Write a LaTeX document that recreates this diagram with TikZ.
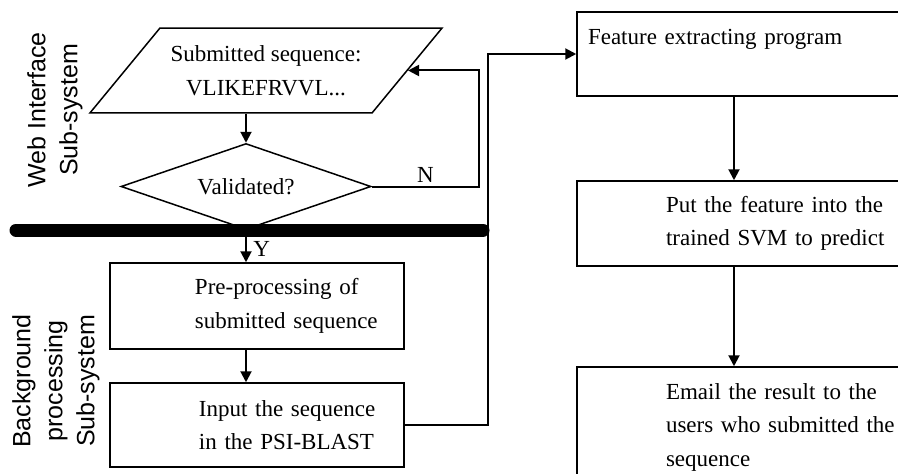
\documentclass[tikz,border=0pt]{standalone}
\usepackage{fontspec}
\setmainfont{Liberation Serif}
\setsansfont{Liberation Sans}
\usetikzlibrary{shapes.geometric,arrows.meta}

\tikzset{
  arr/.style={line width=2pt,-{Triangle[length=11pt,width=11pt]}},
  flowbox/.style 2 args={draw, line width=1.5pt, inner xsep=0pt, inner ysep=0pt,
    text width=#1, align=left, execute at begin node={\leftskip=#2\relax}},
  sidelabel/.style={rotate=90, align=center, font=\sffamily\fontsize{25}{32}\selectfont},
}

\begin{document}
\begin{tikzpicture}[x=1pt,y=-1pt,font=\fontsize{23}{33.5}\selectfont]
\clip (0,0) rectangle (898,474);
% columns of the straight arrows
\coordinate (colL) at (246,0);
\coordinate (colR) at (734,0);
\coordinate (nx) at (479,0);
\coordinate (bx) at (488,0);

% web interface part
\node[draw, line width=1.5pt, trapezium, trapezium left angle=50.5, trapezium right angle=129.5,
  trapezium stretches body=true, minimum width=352pt, inner xsep=0pt, inner ysep=17.5pt,
  align=center] (seq) at (266,70.5) {Submitted sequence:\\VLIKEFRVVL...};
\node[draw, line width=1.5pt, diamond, aspect=2.9, minimum width=250pt, minimum height=86pt,
  inner sep=0pt] (valid) at (246,186.5) {Validated?};

% separating bar
\coordinate (barL) at (16,230);
\coordinate (barR) at (483,230);
\draw[line width=13pt, line cap=round] (barL) -- (barR);

% background part
\node[flowbox={294pt}{85pt}, minimum height=86pt] (pre) at (257,306) {Pre-processing of\\submitted sequence};
\node[flowbox={294pt}{89pt}, minimum height=84pt] (input) at (257,425) {Input the sequence\\in the PSI-BLAST};
\node[flowbox={360pt}{11pt}, minimum height=84pt] (feat) at (757,54) {Feature extracting program\\\mbox{}};
\node[flowbox={360pt}{89pt}, minimum height=85pt] (svm) at (757,223.5) {Put the feature into the\\trained SVM to predict};
\node[flowbox={360pt}{89pt}, minimum height=120pt] (mail) at (757,427) {Email the result to the\\users who submitted the\\sequence};

% side titles
\node[sidelabel] (webLbl) at (55,110) {Web Interface\\Sub-system};
\node[sidelabel] (bgLbl) at (56,381) {Background\\processing\\Sub-system};

% connectors
\draw[arr] (seq.south -| colL) -- (valid.north);
\draw[arr] (valid.east) -| node[pos=0.25, above] {N} (seq.east -| nx) -- (seq.east);
\draw[arr] (valid.south) -- (pre.north -| colL) node[pos=0.6, right=3pt] {Y};
\draw[arr] (pre.south -| colL) -- (input.north -| colL);
\draw[arr] (input.east) -| (feat.west -| bx) -- (feat.west);
\draw[arr] (feat.south -| colR) -- (svm.north -| colR);
\draw[arr] (svm.south -| colR) -- (mail.north -| colR);
\end{tikzpicture}
\end{document}
